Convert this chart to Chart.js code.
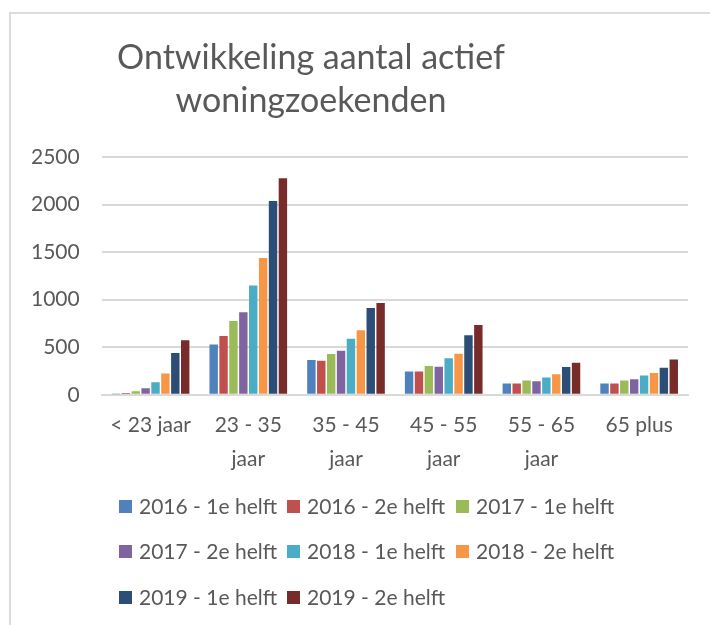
<!DOCTYPE html>
<html>
<head>
<meta charset="utf-8">
<script src="https://cdn.jsdelivr.net/npm/chart.js@4.4.0/dist/chart.umd.min.js"></script>
<style>
    body { margin: 0; background: #fff; }
    #wrap { position: relative; width: 710px; height: 625px; overflow: hidden; }
    #frame { position: absolute; left: 9px; top: 12px; width: 760px; height: 700px; border: 2px solid #dcdcdc; }
    #chart { position: absolute; left: 0; top: 0; }
</style>
</head>
<body>
<div id="wrap">
    <div id="frame"></div>
    <canvas id="chart" width="710" height="625"></canvas>
</div>
<script>
const ageGroups = ["< 23 jaar", ["23 - 35", "jaar"], ["35 - 45", "jaar"], ["45 - 55", "jaar"], ["55 - 65", "jaar"], "65 plus"];

const h2016a = [5, 530, 365, 246, 119, 119];
const h2016b = [18, 618, 358, 246, 119, 119];
const h2017a = [38, 776, 428, 302, 151, 151];
const h2017b = [68, 868, 464, 295, 143, 164];
const h2018a = [133, 1149, 590, 383, 182, 203];
const h2018b = [225, 1437, 678, 432, 217, 228];
const h2019a = [439, 2038, 913, 625, 291, 285];
const h2019b = [573, 2277, 966, 734, 337, 372];

const seriesNames = ["2016 - 1e helft", "2016 - 2e helft", "2017 - 1e helft", "2017 - 2e helft",
    "2018 - 1e helft", "2018 - 2e helft", "2019 - 1e helft", "2019 - 2e helft"];
const seriesValues = [h2016a, h2016b, h2017a, h2017b, h2018a, h2018b, h2019a, h2019b];
const seriesColors = ["#4F81BD", "#C0504D", "#9BBB59", "#8064A2", "#4BACC6", "#F79646", "#2C4D75", "#772C2A"];

const textColor = "#595959";
const fontFamily = "Lato, 'Open Sans', sans-serif";

// title sits a bit left of the plot centre, like the original
const titlePlugin = {
    id: "twoLineTitle",
    afterDraw(chart) {
        const ctx = chart.ctx;
        ctx.save();
        ctx.fillStyle = textColor;
        ctx.font = "34px " + fontFamily;
        ctx.textAlign = "center";
        ctx.textBaseline = "middle";
        ctx.fillText("Ontwikkeling aantal actief", 311, 58);
        ctx.fillText("woningzoekenden", 311, 101);
        ctx.restore();
    }
};

// legend in 3 columns, drawn under the axis
const legendPlugin = {
    id: "gridLegend",
    afterDraw(chart) {
        const ctx = chart.ctx;
        const colX = [119, 287, 456];
        const rowY = [506, 551, 597];
        ctx.save();
        ctx.font = "21px " + fontFamily;
        ctx.textBaseline = "middle";
        ctx.textAlign = "left";
        chart.data.datasets.forEach((ds, i) => {
            const x = colX[i % 3];
            const y = rowY[Math.floor(i / 3)];
            ctx.fillStyle = ds.backgroundColor;
            ctx.fillRect(x, y - 6, 13, 13);
            ctx.fillStyle = textColor;
            ctx.fillText(ds.label, x + 20, y + 1);
        });
        ctx.restore();
    }
};

const datasets = seriesNames.map((name, i) => ({
    label: name,
    data: seriesValues[i],
    backgroundColor: seriesColors[i],
    categoryPercentage: 0.81,
    barPercentage: 0.85
}));

const ctx = document.querySelector("#chart");
new Chart(ctx, {
    type: "bar",
    data: { labels: ageGroups, datasets: datasets },
    options: {
        responsive: false,
        animation: false,
        layout: { padding: { top: 157, left: 9, right: 22, bottom: 135 } },
        plugins: {
            legend: { display: false },
            title: { display: false },
            tooltip: { enabled: false }
        },
        scales: {
            x: {
                grid: { display: false, drawTicks: false },
                border: { display: true, color: "#d9d9d9", width: 2 },
                ticks: {
                    color: textColor,
                    font: { family: fontFamily, size: 21, lineHeight: 1.6 },
                    padding: 14,
                    maxRotation: 0,
                    autoSkip: false
                }
            },
            y: {
                min: 0,
                max: 2500,
                grid: { color: "#d9d9d9", lineWidth: 2, drawTicks: false },
                border: { display: false },
                ticks: {
                    stepSize: 500,
                    color: textColor,
                    font: { family: fontFamily, size: 21 },
                    padding: 22,
                    callback: (value) => String(value)
                }
            }
        }
    },
    plugins: [titlePlugin, legendPlugin]
});
</script>
</body>
</html>
